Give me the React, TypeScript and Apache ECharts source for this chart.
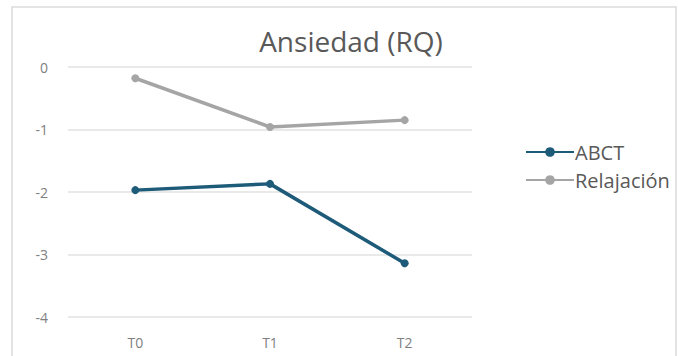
import React, { useEffect, useRef } from "react";
import * as echarts from "echarts";

const categories = ["T0", "T1", "T2"];
const abct = [-1.97, -1.87, -3.14];
const relajacion = [-0.18, -0.96, -0.85];
const seriesNames = ["ABCT", "Relajación"];
const titleText = "Ansiedad (RQ)";

export default function App() {
  const ref = useRef<HTMLDivElement>(null);

  useEffect(() => {
    if (!ref.current) return;
    const chart = echarts.init(ref.current, null, { renderer: "svg" });
    const font = "'Open Sans', Roboto, sans-serif";
    chart.setOption({
      animation: false,
      backgroundColor: "#ffffff",
      title: {
        text: titleText,
        left: 351,
        textAlign: "center",
        top: 27,
        padding: 0,
        textStyle: { fontFamily: font, fontSize: 28, fontWeight: "normal", color: "#595959" },
      },
      legend: {
        orient: "vertical",
        left: 525,
        top: 142,
        padding: 0,
        itemWidth: 48,
        itemHeight: 12,
        itemGap: 8,
        textStyle: { fontFamily: font, fontSize: 20, color: "#595959", padding: [0, 0, 0, -4] },
        data: seriesNames,
      },
      grid: { left: 68, right: 206, top: 67, bottom: 39 },
      xAxis: {
        type: "category",
        data: categories,
        boundaryGap: true,
        axisLine: { show: false },
        axisTick: { show: false },
        axisLabel: { fontFamily: font, fontSize: 14, color: "#7f7f7f", margin: 18 },
      },
      yAxis: {
        type: "value",
        min: -4,
        max: 0,
        interval: 1,
        axisLine: { show: false },
        axisTick: { show: false },
        axisLabel: { fontFamily: font, fontSize: 14, color: "#7f7f7f", margin: 20 },
        splitLine: { lineStyle: { color: "#e2e2e2", width: 1.5 } },
      },
      series: [
        {
          name: seriesNames[0],
          type: "line",
          data: abct,
          symbol: "circle",
          symbolSize: 8,
          lineStyle: { width: 3.5, color: "#1d5b79" },
          itemStyle: { color: "#1d5b79" },
        },
        {
          name: seriesNames[1],
          type: "line",
          data: relajacion,
          symbol: "circle",
          symbolSize: 8,
          lineStyle: { width: 3.5, color: "#a5a5a5" },
          itemStyle: { color: "#a5a5a5" },
        },
      ],
      graphic: [
        {
          type: "rect",
          shape: { x: 12, y: 7, width: 664, height: 360 },
          style: { fill: "none", stroke: "#dcdcdc", lineWidth: 1.5 },
          silent: true,
        },
      ],
    });
    return () => chart.dispose();
  }, []);

  return (
    <div
      ref={ref}
      style={{ position: "absolute", left: 0, top: 0, width: 678, height: 356 }}
    />
  );
}
